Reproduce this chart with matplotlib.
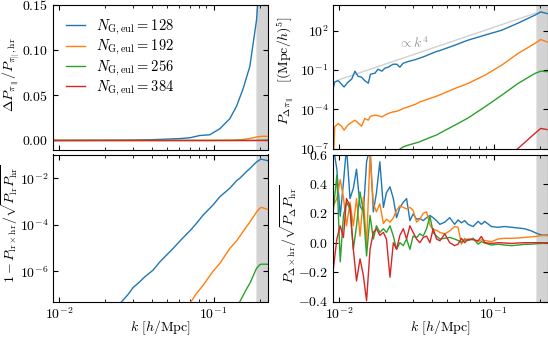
import numpy as np
import matplotlib
matplotlib.use("Agg")
import matplotlib.pyplot as plt
from matplotlib.ticker import NullLocator, NullFormatter

plt.rcParams["font.family"] = "serif"
plt.rcParams["font.serif"] = ["cmr10"]
plt.rcParams["mathtext.fontset"] = "cm"
plt.rcParams["axes.formatter.use_mathtext"] = True
plt.rcParams["font.size"] = 10

n_grid = [128, 192, 256, 384]
colors = ["#1f77b4", "#ff7f0e", "#2ca02c", "#d62728"]

# --- top left: relative difference of P_pi_par ---
k_tl = [0.0092, 0.0200, 0.0300, 0.0387, 0.0450, 0.0521, 0.0605, 0.0703, 0.0815,
        0.0946, 0.1099, 0.1274, 0.1410, 0.1552, 0.1718, 0.1897, 0.2042, 0.2229]
dp_tl = [
    [0.0, 0.0002, 0.0004, 0.0008, 0.0012, 0.0016, 0.0021, 0.0030, 0.0055,
     0.0063, 0.013, 0.024, 0.038, 0.057, 0.082, 0.133, 0.21, 0.22],
    [0.0, 0.0, 0.0, 0.0, 0.0, 0.0, 0.0, 0.0, 0.0,
     0.0, 0.0001, 0.0002, 0.0005, 0.0010, 0.0022, 0.0038, 0.0046, 0.0046],
    [0.0, 0.0, 0.0, 0.0, 0.0, 0.0, 0.0, 0.0, 0.0,
     0.0, 0.0, 0.0, 0.0, 0.0, 0.0, 0.0001, 0.0002, 0.0002],
    [0.0] * 18,
]

# --- top right: power spectrum of the difference ---
k_tr = [0.0092, 0.0094, 0.0099, 0.0104, 0.0108, 0.0114, 0.0121, 0.0127, 0.0133,
        0.0140, 0.0147, 0.0155, 0.0160, 0.0171, 0.0179, 0.0190, 0.0198, 0.0208,
        0.0224, 0.0237, 0.0248, 0.0260, 0.0280, 0.0313, 0.0334, 0.0360, 0.0387,
        0.0430, 0.0450, 0.0562, 0.0683, 0.0879, 0.1130, 0.1440, 0.1850, 0.2020,
        0.2220]
nan = np.nan
p_tr = [
    [0.004, 0.012, 0.015, 0.008, 0.005, 0.011, 0.020, 0.080, 0.033,
     0.028, 0.015, 0.0097, 0.047, 0.056, 0.113, 0.080, 0.135, 0.161,
     0.27, 0.27, 0.16, 0.32, 0.43, 0.62, 0.80, 1.1, 1.58,
     2.6, 3.0, 7.7, 18.5, 45.0, 107.0, 370.0, 1500.0, 2670.0,
     2000.0],
    [1e-8, 4.5e-6, 8e-6, 5e-6, 2.5e-6, 6e-6, 1e-5, 1.45e-5, 9e-6,
     5e-6, 1.95e-5, 1.45e-5, 2.9e-5, 3.5e-5, 3.2e-5, 2.6e-5, 3.5e-5, 4.7e-5,
     6.2e-5, 7.0e-5, 8.5e-5, 1.13e-4, 1.5e-4, 2.4e-4, 3.6e-4, 4.9e-4, 6.6e-4,
     1.0e-3, 1.25e-3, 3.8e-3, 9.2e-3, 0.039, 0.23, 1.79, 10.4, 20.9,
     13.7],
    [nan, nan, nan, nan, nan, nan, nan, nan, nan,
     nan, nan, nan, nan, nan, nan, nan, nan, nan,
     nan, 6e-8, 9e-8, 1.3e-7, 1.8e-7, 2.6e-7, 3.3e-7, 4.8e-7, 6.8e-7,
     1.1e-6, 1.5e-6, 6.0e-6, 2.1e-5, 1.5e-4, 1.17e-3, 9.2e-3, 0.053, 0.080,
     0.074],
    [nan, nan, nan, nan, nan, nan, nan, nan, nan,
     nan, nan, nan, nan, nan, nan, nan, nan, nan,
     nan, nan, nan, nan, nan, nan, nan, nan, nan,
     nan, nan, nan, nan, nan, 1e-8, 1.0e-7, 1.4e-6, 3.4e-6,
     2.8e-6],
]
k4_amp = 1.75e6
k4_range = [0.0097, 0.20]

# --- bottom left: 1 - cross correlation ---
k_bl = [0.0220, 0.0254, 0.0280, 0.0302, 0.0333, 0.0359, 0.0406, 0.0450, 0.0548,
        0.0621, 0.0721, 0.0776, 0.0857, 0.0993, 0.1099, 0.1274, 0.1410, 0.1480,
        0.1633, 0.1718, 0.1897, 0.1990, 0.2042, 0.2229]
r_bl = [
    [1.7e-8, 4.8e-8, 1.0e-7, 2.0e-7, 3.5e-7, 5.7e-7, 1.11e-6, 2.54e-6, 9.6e-6,
     2.35e-5, 6.5e-5, 1.15e-4, 2.6e-4, 7.1e-4, 1.6e-3, 3.7e-3, 7.8e-3, 1.0e-2,
     0.0192, 0.026, 0.050, 0.062, 0.066, 0.0574],
    [nan, nan, nan, nan, nan, nan, nan, nan, nan,
     1.5e-8, 5.3e-8, 1.1e-7, 2.5e-7, 1.0e-6, 2.17e-6, 9.5e-6, 2.04e-5, 3.2e-5,
     8.2e-5, 1.3e-4, 3.5e-4, 5.1e-4, 5.6e-4, 4.6e-4],
    [nan, nan, nan, nan, nan, nan, nan, nan, nan,
     nan, nan, nan, nan, nan, nan, nan, 2e-8, 4.9e-8,
     1.7e-7, 3.0e-7, 1.32e-6, 1.9e-6, 2.02e-6, 2.0e-6],
    [nan, nan, nan, nan, nan, nan, nan, nan, nan,
     nan, nan, nan, nan, nan, nan, nan, nan, nan,
     nan, nan, 1e-9, 2e-9, 2e-9, 2e-9],
]

# --- bottom right: correlation of difference with high-res field ---
k_br = [0.0092, 0.0097, 0.0102, 0.0107, 0.0112, 0.0118, 0.0124, 0.0130, 0.0137,
        0.0144, 0.0151, 0.0159, 0.0167, 0.0175, 0.0184, 0.0194, 0.0203, 0.0214,
        0.0225, 0.0236, 0.0248, 0.0261, 0.0274, 0.0288, 0.0302, 0.0318, 0.0334,
        0.0351, 0.0369, 0.0388, 0.0407, 0.0428, 0.0450, 0.0484, 0.0521, 0.0561,
        0.0590, 0.0620, 0.0651, 0.0685, 0.0738, 0.0795, 0.0835, 0.0877, 0.0969,
        0.107, 0.118, 0.131, 0.144, 0.159, 0.176, 0.189, 0.204, 0.223]
c_br = [
    [0.65, 0.50, 0.18, 0.41, 0.65, 0.30, 0.37, 0.50, 0.25,
     0.21, 0.55, 0.65, 0.21, 0.34, 0.55, 0.24, 0.34, 0.38,
     0.30, 0.17, 0.24, 0.275, 0.30, 0.15, 0.195, 0.16, 0.165,
     0.15, 0.17, 0.185, 0.17, 0.15, 0.125, 0.14, 0.17, 0.125,
     0.155, 0.135, 0.15, 0.125, 0.11, 0.145, 0.125, 0.145, 0.11,
     0.105, 0.11, 0.105, 0.10, 0.095, 0.08, 0.065, 0.052, 0.052],
    [0.25, 0.30, 0.43, 0.31, 0.115, 0.275, 0.115, 0.30, 0.045,
     0.31, -0.02, 0.60, 0.265, 0.21, 0.265, 0.13, 0.16, 0.14,
     0.17, 0.22, 0.25, 0.24, 0.23, 0.24, 0.22, 0.14, 0.16,
     0.20, 0.21, 0.12, 0.09, 0.085, 0.07, 0.06, 0.08, 0.11,
     0.105, -0.01, 0.03, 0.015, 0.025, 0.007, 0.02, 0.015, 0.007,
     0.025, 0.03, 0.03, 0.032, 0.036, 0.04, 0.043, 0.048, 0.048],
    [0.22, 0.46, -0.13, 0.185, 0.275, 0.23, -0.045, 0.115, 0.345,
     0.21, -0.09, 0.185, 0.025, 0.115, 0.07, 0.095, 0.07, 0.115,
     0.045, -0.045, 0.0, -0.02, 0.025, -0.045, 0.045, 0.035, 0.06,
     0.045, 0.095, 0.18, 0.07, 0.045, 0.025, 0.03, 0.036, 0.025,
     0.015, 0.002, 0.02, 0.015, 0.03, -0.01, 0.007, -0.002, -0.016,
     -0.01, -0.016, -0.02, -0.016, -0.011, -0.01, -0.007, -0.005, -0.002],
    [-0.18, 0.025, 0.115, 0.035, 0.30, 0.25, -0.045, -0.26, -0.11,
     -0.225, -0.395, -0.045, 0.07, 0.095, 0.05, 0.07, 0.025, -0.235,
     0.0, -0.045, 0.05, 0.095, 0.025, 0.115, 0.07, 0.025, 0.0,
     0.035, 0.045, 0.0, 0.095, 0.025, 0.013, 0.06, 0.0, -0.02,
     -0.01, 0.03, 0.0, 0.025, 0.02, 0.013, 0.043, 0.0, -0.005,
     0.0, -0.002, -0.005, -0.002, 0.0, 0.0, 0.0, 0.0, 0.0],
]

k_min, k_max = 0.0092, 0.2235
k_shade_light, k_shade = 0.1895, 0.1925

fig = plt.figure(figsize=(5.48, 3.38), dpi=100)
W, H = 548, 338


def px_axes(x0, y0, x1, y1, **kw):
    return fig.add_axes([x0 / W, 1 - y1 / H, (x1 - x0) / W, (y1 - y0) / H], **kw)


ax_tl = px_axes(53.3, 5, 267.5, 149.5)
ax_bl = px_axes(53.3, 154.5, 267.5, 301.5, sharex=ax_tl)
ax_tr = px_axes(333.3, 5, 547.5, 148.5)
ax_br = px_axes(333.3, 154.5, 547.5, 301.5, sharex=ax_tr)
axs = [ax_tl, ax_bl, ax_tr, ax_br]

for i, n in enumerate(n_grid):
    lab = r"$N_\mathrm{G,eul} = %d$" % n
    ax_tl.plot(k_tl, dp_tl[i], color=colors[i], lw=1.0, label=lab)
    ax_tr.plot(k_tr, p_tr[i], color=colors[i], lw=1.0)
    ax_bl.plot(k_bl, r_bl[i], color=colors[i], lw=1.0)
    ax_br.plot(k_br, c_br[i], color=colors[i], lw=1.0)

k4 = np.geomspace(k4_range[0], k4_range[1], 50)
ax_tr.plot(k4, k4_amp * k4 ** 4, color="0.82", lw=1.0, zorder=1)
ax_tr.text(0.024, 11, r"$\propto k^4$", color="0.6", fontsize=10,
           ha="left", va="center")

for ax in axs:
    ax.set_xscale("log")
    ax.set_xlim(k_min, k_max)
    ax.axvspan(k_shade_light, 1.0, color="#e4e4e4", lw=0, zorder=0)
    ax.axvspan(k_shade, 1.0, color="#d3d3d3", lw=0, zorder=0)
    ax.tick_params(which="both", direction="in", top=True, right=True,
                   labelsize=10)
    ax.tick_params(which="major", length=3.5, width=0.8)
    ax.tick_params(which="minor", length=2, width=0.6)
    ax.xaxis.set_minor_formatter(NullFormatter())

ax_tl.set_ylim(-0.01, 0.15)
ax_tl.set_yticks([0.0, 0.05, 0.10, 0.15])
ax_tl.tick_params(labelbottom=False)

ax_tr.set_yscale("log")
ax_tr.set_ylim(1e-7, 9e3)
ax_tr.set_yticks([1e-7, 1e-4, 1e-1, 1e2])
ax_tr.yaxis.set_minor_locator(NullLocator())
ax_tr.tick_params(labelbottom=False)

ax_bl.set_yscale("log")
ax_bl.set_ylim(5e-8, 0.105)
ax_bl.set_yticks([1e-6, 1e-4, 1e-2])
ax_bl.yaxis.set_minor_locator(NullLocator())

ax_br.set_ylim(-0.4, 0.6)
ax_br.set_yticks([-0.4, -0.2, 0.0, 0.2, 0.4, 0.6])

ylab_size = 10
ax_tl.set_ylabel(r"$\Delta P_{\pi_\parallel}/P_{\pi_{||},\mathrm{hr}}$",
                 fontsize=ylab_size)
ax_bl.set_ylabel(r"$1 - P_{\mathrm{lr}\times\mathrm{hr}}/\sqrt{P_\mathrm{lr}P_\mathrm{hr}}$",
                 fontsize=ylab_size)
ax_tr.set_ylabel(r"$P_{\Delta\pi_\parallel}\quad[(\mathrm{Mpc}/h)^5]$",
                 fontsize=ylab_size)
ax_br.set_ylabel(r"$P_{\Delta\times\mathrm{hr}}/\sqrt{P_\Delta P_\mathrm{hr}}$",
                 fontsize=ylab_size)
ax_tl.yaxis.set_label_coords(-0.148, 0.52)
ax_bl.yaxis.set_label_coords(-0.154, 0.53)
ax_tr.yaxis.set_label_coords(-0.175, 0.54)
ax_br.yaxis.set_label_coords(-0.16, 0.46)

for ax in (ax_bl, ax_br):
    ax.set_xlabel(r"$k\ [h/\mathrm{Mpc}]$", labelpad=-2.5, fontsize=10)

ax_tl.legend(loc="upper left", frameon=False, handlelength=1.3,
             handletextpad=0.7, fontsize=10.5, labelspacing=0.08)

fig.savefig("out.png", dpi=100)
